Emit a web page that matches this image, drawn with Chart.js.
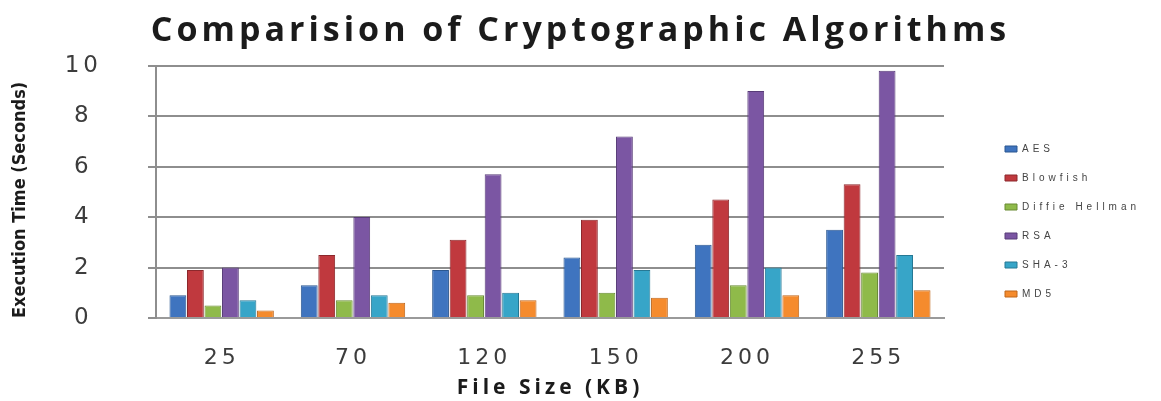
<!DOCTYPE html>
<html>
<head>
<meta charset="utf-8">
<script src="https://cdn.jsdelivr.net/npm/chart.js@4.4.1/dist/chart.umd.min.js"></script>
<style>
  html, body { margin: 0; padding: 0; background: #fff; }
  #wrap { width: 1161px; height: 401px; }
</style>
</head>
<body>
<div id="wrap"><canvas id="cryptoChart"></canvas></div>
<script>
// file sizes (KB)
var fileSizes = ["25", "70", "120", "150", "200", "255"];

// execution time in seconds
var aes       = [0.9, 1.3, 1.9, 2.4, 2.9, 3.5];
var blowfish  = [1.9, 2.5, 3.1, 3.9, 4.7, 5.3];
var diffie    = [0.5, 0.7, 0.9, 1.0, 1.3, 1.8];
var rsa       = [2.0, 4.0, 5.7, 7.2, 9.0, 9.8];
var sha3      = [0.7, 0.9, 1.0, 1.9, 2.0, 2.5];
var md5       = [0.3, 0.6, 0.7, 0.8, 0.9, 1.1];

var yTicks = [0, 2, 4, 6, 8, 10];

// source picture is stretched sideways -> spaced out text,
// except the y title which is drawn after the bars (z: 1) without spacing.
// measureText ignores the spacing, so the legend gets a fixed width.
var spacing = {
  id: 'spacing',
  afterInit: function (chart) {
    var legend = chart.legend, fit = legend.fit;
    legend.fit = function () { fit.call(this); this.width = 175; };
  },
  beforeLayout: function (chart) { chart.ctx.letterSpacing = '4px'; },
  beforeDraw: function (chart) { chart.ctx.letterSpacing = '4px'; },
  afterDatasetsDraw: function (chart) { chart.ctx.letterSpacing = '0px'; },
  afterDraw: function (chart) { chart.ctx.letterSpacing = '0px'; }
};

function bar(label, data, fill, edge) {
  return {
    label: label,
    data: data,
    backgroundColor: fill,
    borderColor: edge,
    borderWidth: 1,
    barPercentage: 0.96,
    categoryPercentage: 0.8
  };
}

var ctx = document.getElementById("cryptoChart");
var myChart = new Chart(ctx, {
  type: 'bar',
  data: {
    labels: fileSizes,
    datasets: [
      bar("AES", aes, '#3f74bf', '#2b5790'),
      bar("Blowfish", blowfish, '#c0393e', '#8c282c'),
      bar("Diffie Hellman", diffie, '#8fba4a', '#688a33'),
      bar("RSA", rsa, '#7b56a3', '#583c78'),
      bar("SHA-3", sha3, '#37a5c8', '#267894'),
      bar("MD5", md5, '#f58b2d', '#bf661b')
    ]
  },
  plugins: [spacing],
  options: {
    responsive: true,
    maintainAspectRatio: false,
    animation: false,
    layout: { padding: 0 },
    plugins: {
      title: {
        display: true,
        text: 'Comparision of Cryptographic Algorithms',
        color: '#1b1b1b',
        font: { family: 'Open Sans', size: 34, weight: 'bold' },
        padding: { top: 11, bottom: 14 }
      },
      legend: {
        position: 'right',
        align: 'end',
        fullSize: false,
        labels: {
          color: '#444',
          font: { family: 'Liberation Sans', size: 10 },
          boxWidth: 12,
          boxHeight: 6,
          padding: 19
        }
      },
      tooltip: { enabled: false }
    },
    scales: {
      x: {
        afterFit: function (scale) { scale.height = 83; },
        grid: { display: false, drawTicks: false },
        border: { display: true, color: '#9a9a9a', width: 2 },
        ticks: {
          color: '#3c3c3c',
          font: { family: 'DejaVu Sans', size: 22 },
          padding: 27,
          maxRotation: 0
        },
        title: {
          display: true,
          text: 'File Size (KB)',
          color: '#1b1b1b',
          font: { family: 'Open Sans', size: 21, weight: 'bold' },
          padding: { top: 0, bottom: 0 }
        }
      },
      y: {
        min: 0,
        max: 10,
        afterFit: function (scale) { scale.width = 114; },
        afterBuildTicks: function (scale) {
          scale.ticks = yTicks.map(function (v) { return { value: v }; });
        },
        grid: { color: '#8e8e8e', lineWidth: 2, tickLength: 8 },
        border: { display: true, color: '#8e8e8e', width: 2 },
        ticks: {
          color: '#3c3c3c',
          font: { family: 'DejaVu Sans', size: 23 },
          crossAlign: 'center',
          padding: 46
        }
      },
      // holds only the y title, drawn without letter spacing
      yTitle: {
        type: 'linear',
        position: 'left',
        weight: 1,
        afterFit: function (scale) { scale.width = 42; },
        grid: { display: false, drawTicks: false, z: 1 },
        border: { display: false },
        ticks: { display: false },
        title: {
          display: true,
          text: 'Execution Time (Seconds)',
          align: 'start',
          color: '#1b1b1b',
          font: { family: "'Liberation Sans Narrow', 'DejaVu Sans Condensed', 'Liberation Sans'", size: 18, weight: 'bold' },
          padding: { top: 10, bottom: 0 }
        }
      },
      // empty space between the plot and the legend
      gap: {
        type: 'linear',
        position: 'right',
        afterFit: function (scale) { scale.width = 42; },
        grid: { display: false, drawOnChartArea: false, drawTicks: false },
        border: { display: false },
        ticks: { display: false }
      }
    }
  }
});
</script>
</body>
</html>
